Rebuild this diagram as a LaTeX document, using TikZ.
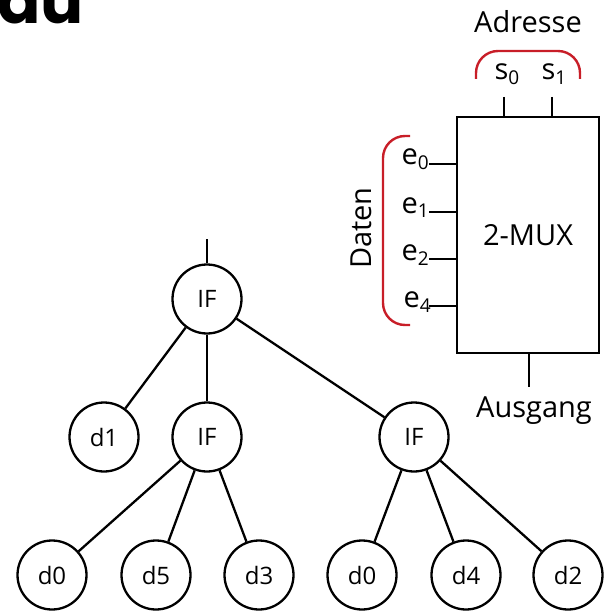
\documentclass[tikz,border=0pt]{standalone}
\usepackage{fontspec}
\setmainfont{Open Sans}
\newfontfamily\titlefont{Poppins}
\usetikzlibrary{positioning}

\definecolor{bracketred}{RGB}{200,30,40}
\newcommand{\idx}[1]{\raisebox{-5pt}{\fontsize{19}{22}\selectfont #1}}
\tikzset{
  knoten/.style={draw,circle,line width=2.3pt,minimum size=69pt,inner sep=0pt,font=\fontsize{24}{28}\selectfont},
  kante/.style={line width=2.3pt},
  pin/.style={line width=2.4pt},
  klammer/.style={draw=bracketred,line width=2.4pt,rounded corners=22pt},
  beschr/.style={font=\fontsize{29}{34}\selectfont,inner sep=0pt}
}

\begin{document}
\begin{tikzpicture}[x=1pt,y=-1pt]
  \useasboundingbox (0,0) rectangle (606,612);
  % cut-off title
  \node[anchor=base west,inner sep=0pt,font=\titlefont\bfseries\fontsize{64}{70}\selectfont] (titel) at (-3,24) {au};

  % tree
  \coordinate (wurzel) at (207,239);
  \node[knoten] (if0) at (207,299) {IF};
  \node[knoten] (d1) at (104,437) {d1};
  \node[knoten] (if1) at (207,437) {IF};
  \node[knoten] (if2) at (414,437) {IF};
  \node[knoten] (d0a) at (52,575) {d0};
  \node[knoten] (d5) at (156,575) {d5};
  \node[knoten] (d3) at (259,575) {d3};
  \node[knoten] (d0b) at (362,575) {d0};
  \node[knoten] (d4) at (466,575) {d4};
  \node[knoten] (d2) at (568,575) {d2};
  \draw[kante] (wurzel) -- (if0);
  \draw[kante] (if0) -- (d1);
  \draw[kante] (if0) -- (if1);
  \draw[kante] (if0) -- (if2);
  \draw[kante] (if1) -- (d0a);
  \draw[kante] (if1) -- (d5);
  \draw[kante] (if1) -- (d3);
  \draw[kante] (if2) -- (d0b);
  \draw[kante] (if2) -- (d4);
  \draw[kante] (if2) -- (d2);

  % multiplexer
  \node[draw,line width=2.8pt,minimum width=142pt,minimum height=236pt,beschr] (mux) at (528,235) {2-MUX};
  \coordinate (s0) at (504,97);
  \coordinate (s1) at (552,97);
  \draw[pin] (s0) -- (s0 |- mux.north);
  \draw[pin] (s1) -- (s1 |- mux.north);
  \node[beschr,anchor=base] (ls0) at (507,80) {s\idx{0}};
  \node[beschr,anchor=base] (ls1) at (554,80) {s\idx{1}};
  \foreach \name/\y/\x in {0/164/429,1/212/429,2/259/429,4/306/431}{
    \coordinate (e\name) at (429,\y);
    \draw[pin] (e\name) -- (e\name -| mux.west);
    \node[beschr,anchor=base east] (le\name) at (\x,\y+1) {e\idx{\name}};
  }
  \coordinate (aus) at (529,387);
  \draw[line width=1.6pt] (mux.south -| aus) -- (aus);
  \node[beschr,anchor=base] (ausgang) at (534,417) {Ausgang};

  % brackets
  \draw[klammer] (476,79) -- (476,51) -- (580,51) -- (580,79);
  \node[beschr,anchor=base] (adresse) at (528,33) {Adresse};
  \draw[klammer] (410,136) -- (383,136) -- (383,325) -- (410,325);
  \node[beschr,rotate=90] (daten) at (361,228) {Daten};
\end{tikzpicture}
\end{document}
